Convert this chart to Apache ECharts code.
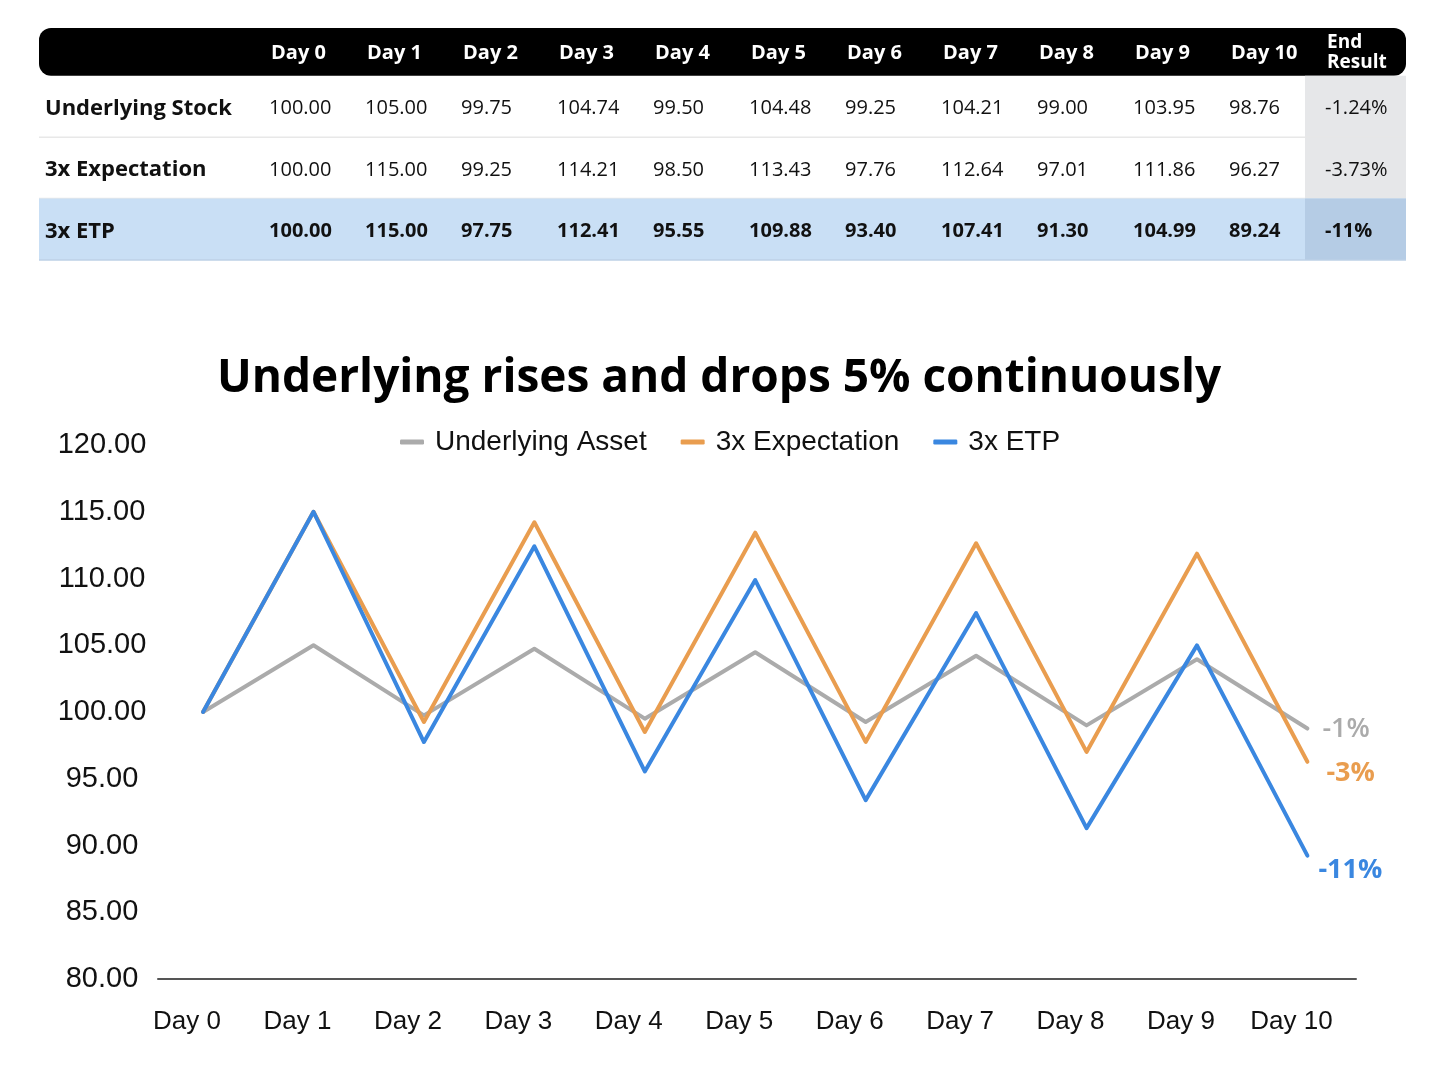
<!DOCTYPE html>
<html><head><meta charset="utf-8">
<script src="https://cdn.jsdelivr.net/npm/echarts@6/dist/echarts.min.js"></script>
<style>html,body{margin:0;padding:0;background:#fff}#c{width:1438px;height:1074px}</style>
</head><body><div id="c"></div>
<script>
// ---- data ----
const days = ['Day 0','Day 1','Day 2','Day 3','Day 4','Day 5','Day 6','Day 7','Day 8','Day 9','Day 10'];
const tableHeaders = days.concat(['End\nResult']);
const rowNames = ['Underlying Stock','3x Expectation','3x ETP'];
const underlying = [100.00,105.00,99.75,104.74,99.50,104.48,99.25,104.21,99.00,103.95,98.76];
const expectation = [100.00,115.00,99.25,114.21,98.50,113.43,97.76,112.64,97.01,111.86,96.27];
const etp = [100.00,115.00,97.75,112.41,95.55,109.88,93.40,107.41,91.30,104.99,89.24];
const endResults = ['-1.24%','-3.73%','-11%'];
const legendNames = ['Underlying Asset','3x Expectation','3x ETP'];
const endLabels = ['-1%','-3%','-11%'];
const titleText = 'Underlying rises and drops 5% continuously';
const yMin = 80, yMax = 120, yStep = 5;

const rowValues = [underlying, expectation, etp];
const colors = ['#ABABAB','#E99D4F','#3A87E0'];
const TFONT = '"Open Sans", Lato, sans-serif';
const CFONT = '"Liberation Sans", Arial, sans-serif';
const HEADER_H = 0.78;

function renderTable(params, api) {
  const r = api.value(1);
  const cs = params.coordSys;
  const yTop = api.coord([0, r === 0 ? 0 : HEADER_H + r - 1])[1];
  const yBot = api.coord([0, r === 0 ? HEADER_H : HEADER_H + r])[1];
  const yMid = (yTop + yBot) / 2;
  const colX = c => api.coord([c, 0])[0];
  const kids = [];
  if (r === 0) {
    kids.push({type:'rect', shape:{x:cs.x, y:yTop, width:cs.width, height:yBot-yTop, r:12}, style:{fill:'#000'}});
    tableHeaders.forEach((h, c) => {
      kids.push({type:'text', style:{text:h, x:colX(c)+17, y:yMid+1, fill:'#fff', fontSize: c === 11 ? 19 : 20, fontWeight:'bold',
        fontFamily:TFONT, align:'left', verticalAlign:'middle', lineHeight:20}});
    });
  } else {
    const ri = r - 1;
    const isEtp = ri === 2;
    if (isEtp) kids.push({type:'rect', shape:{x:cs.x, y:yTop, width:cs.width, height:yBot-yTop}, style:{fill:'#C9DFF5'}});
    const ex = colX(11) - 5;
    kids.push({type:'rect', shape:{x:ex, y:yTop, width:cs.x+cs.width-ex, height:yBot-yTop}, style:{fill: isEtp ? '#B5CCE5' : '#E6E7E9'}});
    kids.push({type:'line', shape:{x1:cs.x, y1:yBot, x2:cs.x+cs.width, y2:yBot}, style:{stroke: isEtp ? '#BCD0E6' : '#E8E8E8', lineWidth:1.5}});
    kids.push({type:'text', style:{text:rowNames[ri], x:cs.x+6, y:yMid+2, fill:'#111', fontSize:22, fontWeight:'bold',
      fontFamily:TFONT, align:'left', verticalAlign:'middle'}});
    const vals = rowValues[ri].map(v => v.toFixed(2)).concat([endResults[ri]]);
    vals.forEach((t, c) => {
      kids.push({type:'text', style:{text:t, x:colX(c)+15, y:yMid+2, fill:'#111', fontSize:20, fontWeight: isEtp ? 'bold' : 'normal',
        fontFamily:TFONT, align:'left', verticalAlign:'middle'}});
    });
  }
  return {type:'group', children:kids};
}

const chart = echarts.init(document.getElementById('c'));
const lineSeries = [underlying, expectation, etp].map((arr, i) => ({
  type:'line', name:legendNames[i], xAxisIndex:0, yAxisIndex:0,
  data: arr.map((v, k) => [k, v]),
  showSymbol:false, symbol:'none',
  lineStyle:{width:4, color:colors[i], cap:'round', join:'round'},
  itemStyle:{color:colors[i]},
  z: 2 + i,
  endLabel:{show:true, formatter:endLabels[i], color:colors[i], fontSize:27, fontFamily:TFONT,
    fontWeight: i === 0 ? 600 : 'bold', distance:15,
    offset: i === 0 ? [0, 1] : (i === 1 ? [4, 12] : [-4, 15])}
}));

chart.setOption({
  animation:false,
  backgroundColor:'#fff',
  title:{text:titleText, left:'center', top:351,
    textStyle:{fontSize:46, fontWeight:'bold', fontFamily:TFONT, color:'#000'}},
  legend:{top:423, left:395, data:legendNames, icon:'roundRect', itemWidth:24, itemHeight:5, itemGap:34,
    textStyle:{fontSize:28, fontFamily:CFONT, color:'#111', padding:[0,0,0,6]}},
  grid:[
    {left:158, right:82, top:445, bottom:95},
    {left:39, right:32, top:28, height:232}
  ],
  xAxis:[
    {type:'value', gridIndex:0, min:-0.408, max:10.44,
      axisLine:{show:true, lineStyle:{color:'#555', width:2}}, axisTick:{show:false}, splitLine:{show:false},
      axisLabel:{customValues:days.map((d, i) => i), formatter:v => days[Math.round(v)], fontSize:26, fontFamily:CFONT,
        color:'#111', margin:30, padding:[0,32,0,0]}},
    {type:'value', gridIndex:1, min:-2.24, max:12, show:false}
  ],
  yAxis:[
    {type:'value', gridIndex:0, min:yMin, max:yMax, interval:yStep,
      axisLine:{show:false}, axisTick:{show:false}, splitLine:{show:false},
      axisLabel:{formatter:v => v.toFixed(2), fontSize:29, fontFamily:CFONT, color:'#111', align:'center', margin:56}},
    {type:'value', gridIndex:1, min:0, max:HEADER_H + 3, inverse:true, show:false}
  ],
  series: lineSeries.concat([{
    type:'custom', xAxisIndex:1, yAxisIndex:1, silent:true, clip:false,
    renderItem: renderTable,
    data: [[0,0],[0,1],[0,2],[0,3]]
  }])
});
</script></body></html>
